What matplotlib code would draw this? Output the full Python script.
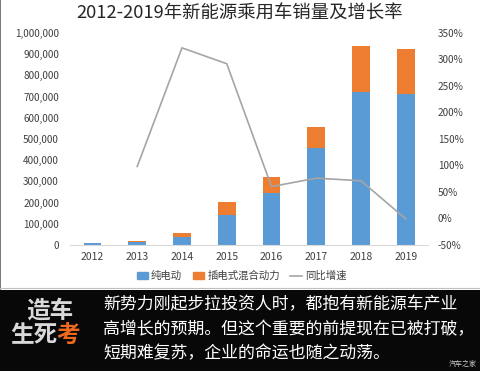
import matplotlib
matplotlib.use("Agg")
import matplotlib.pyplot as plt
from matplotlib.patches import Patch, Rectangle
from matplotlib.lines import Line2D
from matplotlib.ticker import FuncFormatter

plt.rcParams['font.family'] = ['Noto Sans CJK SC', 'DejaVu Sans']

# data
years = ['2012', '2013', '2014', '2015', '2016', '2017', '2018', '2019']
bev = [9000, 13000, 36000, 143000, 245000, 455000, 722000, 714000]        # 纯电动
phev = [2000, 3000, 18000, 60000, 75000, 103000, 217000, 209000]          # 插电式混合动力
growth = [None, 0.98, 3.22, 2.92, 0.60, 0.76, 0.71, -0.01]               # 同比增速

title = '2012-2019年新能源乘用车销量及增长率'
caption = ['新势力刚起步拉投资人时，都抱有新能源车产业',
           '高增长的预期。但这个重要的前提现在已被打破，',
           '短期难复苏，企业的命运也随之动荡。']

blue = '#5B9BD5'
orange = '#ED7D31'
grey = '#A5A5A5'
tick_col = '#404040'

fig = plt.figure(figsize=(4.8, 3.71), dpi=100)
fig.patch.set_facecolor('white')

ax = fig.add_axes([0.146, 0.34, 0.746, 0.571])
x = list(range(len(years)))
ax.bar(x, bev, width=0.4, color=blue, zorder=2)
ax.bar(x, phev, width=0.4, bottom=bev, color=orange, zorder=2)
ax.set_xlim(-0.5, len(years) - 0.5)
ax.set_ylim(0, 1000000)
ax.set_yticks(range(0, 1000001, 100000))
ax.yaxis.set_major_formatter(FuncFormatter(lambda v, p: f'{int(v):,}'))
ax.set_xticks(x)
ax.set_xticklabels(years)
for s in ['top', 'right', 'left']:
    ax.spines[s].set_visible(False)
ax.spines['bottom'].set_color('#D9D9D9')
ax.tick_params(axis='y', length=0, pad=8, labelsize=7.2, labelcolor=tick_col)
ax.tick_params(axis='x', length=0, pad=5, labelsize=7.5, labelcolor=tick_col)

ax2 = ax.twinx()
gx = [i for i, g in zip(x, growth) if g is not None]
gy = [g for g in growth if g is not None]
ax2.plot(gx, gy, color=grey, lw=1.2, zorder=3)
ax2.set_ylim(-0.5, 3.5)
ax2.set_yticks([-0.5, 0, 0.5, 1, 1.5, 2, 2.5, 3, 3.5])
ax2.yaxis.set_major_formatter(FuncFormatter(lambda v, p: f'{v:.0%}'))
for s in ax2.spines.values():
    s.set_visible(False)
ax2.tick_params(axis='y', length=0, pad=7, labelsize=7.2, labelcolor=tick_col)

fig.text(0.5, 0.962, title, ha='center', va='center', fontsize=13.2, color='#262626')

handles = [Patch(color=blue), Patch(color=orange), Line2D([], [], color=grey, lw=1.2)]
fig.legend(handles, ['纯电动', '插电式混合动力', '同比增速'], loc='center',
           bbox_to_anchor=(0.503, 0.256), ncol=3, frameon=False, fontsize=7.5,
           handlelength=1.1, handleheight=0.7, handletextpad=0.3, columnspacing=1.0,
           labelcolor=tick_col)

# chart frame edges
fig.add_artist(Line2D([0.001, 0.001], [0.222, 1], color='#606060', lw=1.2))
fig.add_artist(Line2D([0, 1], [0.224, 0.224], color='#BFBFBF', lw=0.8))

# bottom banner
fig.add_artist(Rectangle((0, 0), 1, 0.218, transform=fig.transFigure,
                         facecolor='#080808', edgecolor='none'))
for i, line in enumerate(caption):
    fig.text(0.215, 0.18 - i * 0.066, line, ha='left', va='center',
             fontsize=12.2, color='white')
fig.text(0.994, 0.018, '汽车之家', ha='right', va='center', fontsize=5, color='#cccccc')

# logo text
fig.text(0.055, 0.164, '造车', ha='left', va='center', fontsize=17, fontweight='bold',
         color='#d9d9d9', style='italic')
fig.text(0.022, 0.097, '生死', ha='left', va='center', fontsize=17, fontweight='bold',
         color='#d9d9d9', style='italic')
fig.text(0.118, 0.097, '考', ha='left', va='center', fontsize=17, fontweight='bold',
         color='#F06A1E', style='italic')

fig.savefig('out.png', dpi=100)
